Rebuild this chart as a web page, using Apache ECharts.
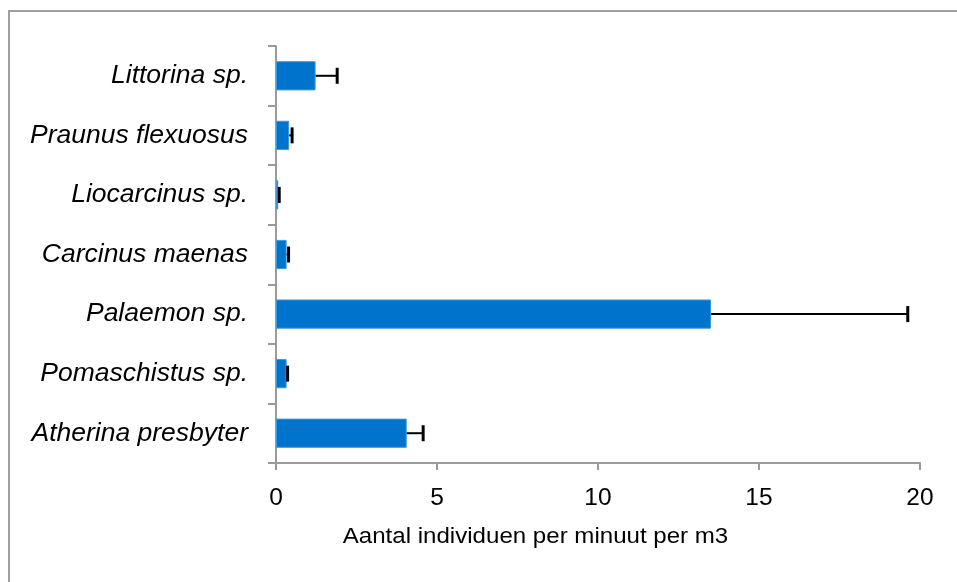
<!DOCTYPE html>
<html>
<head>
<meta charset="utf-8">
<script src="https://cdn.jsdelivr.net/npm/echarts@6/dist/echarts.min.js"></script>
<style>html,body{margin:0;padding:0;background:#fff}#c{width:957px;height:582px}</style>
</head>
<body>
<div id="c"></div>
<script>
// Data (bottom to top, as on the category axis)
const categories = ["Atherina presbyter", "Pomaschistus sp.", "Palaemon sp.", "Carcinus maenas", "Liocarcinus sp.", "Praunus flexuosus", "Littorina sp."];
const values = [4.06, 0.33, 13.51, 0.33, 0.07, 0.41, 1.23];
const errors = [0.51, 0.03, 6.11, 0.06, 0.03, 0.09, 0.67];
const xTicks = [0, 5, 10, 15, 20];
const axisTitle = "Aantal individuen per minuut per m3";

const chart = echarts.init(document.getElementById('c'), null, {renderer: 'canvas'});
const errData = categories.map((c, i) => [i, values[i], values[i] + errors[i]]);

chart.setOption({
  animation: false,
  backgroundColor: '#fff',
  grid: {left: 276, right: 37, top: 46, bottom: 119, containLabel: false},
  xAxis: {
    type: 'value', min: xTicks[0], max: xTicks[xTicks.length - 1], interval: 5,
    axisLine: {show: true, lineStyle: {color: '#9a9a9a', width: 2}},
    axisTick: {show: true, length: 7, lineStyle: {color: '#9a9a9a', width: 2}},
    splitLine: {show: false},
    axisLabel: {fontFamily: 'Liberation Sans, Arial, sans-serif', fontSize: 24.5, color: '#000', margin: 23}
  },
  yAxis: {
    type: 'category', data: categories,
    axisLine: {show: true, lineStyle: {color: '#9a9a9a', width: 2}},
    axisTick: {show: true, length: 8, lineStyle: {color: '#9a9a9a', width: 2}},
    axisLabel: {fontFamily: 'Liberation Sans, Arial, sans-serif', fontStyle: 'italic', fontSize: 26.5, color: '#000', margin: 28}
  },
  graphic: [
    {type: 'rect', shape: {x: 9, y: 11, width: 2000, height: 2000}, style: {fill: 'none', stroke: '#a0a0a0', lineWidth: 2}, silent: true, z: -1},
    {type: 'text', x: 535.5, y: 537, scaleX: 1.07, style: {text: axisTitle, font: '22.5px "Liberation Sans", Arial, sans-serif', fill: '#000', align: 'center', verticalAlign: 'middle'}}
  ],
  series: [
    {
      type: 'bar', data: values, barWidth: '49%',
      itemStyle: {color: '#0074cd', borderColor: '#3c97dc', borderWidth: 1}
    },
    {
      type: 'custom', data: errData, z: 5,
      renderItem: function (params, api) {
        const p0 = api.coord([api.value(1), api.value(0)]);
        const p1 = api.coord([api.value(2), api.value(0)]);
        const h = 8;
        return {
          type: 'group',
          children: [
            {type: 'line', shape: {x1: p0[0], y1: p0[1], x2: p1[0], y2: p1[1]}, style: {stroke: '#000', lineWidth: 2}},
            {type: 'line', shape: {x1: p1[0], y1: p1[1] - h, x2: p1[0], y2: p1[1] + h}, style: {stroke: '#000', lineWidth: 3}}
          ]
        };
      }
    }
  ]
});
</script>
</body>
</html>
